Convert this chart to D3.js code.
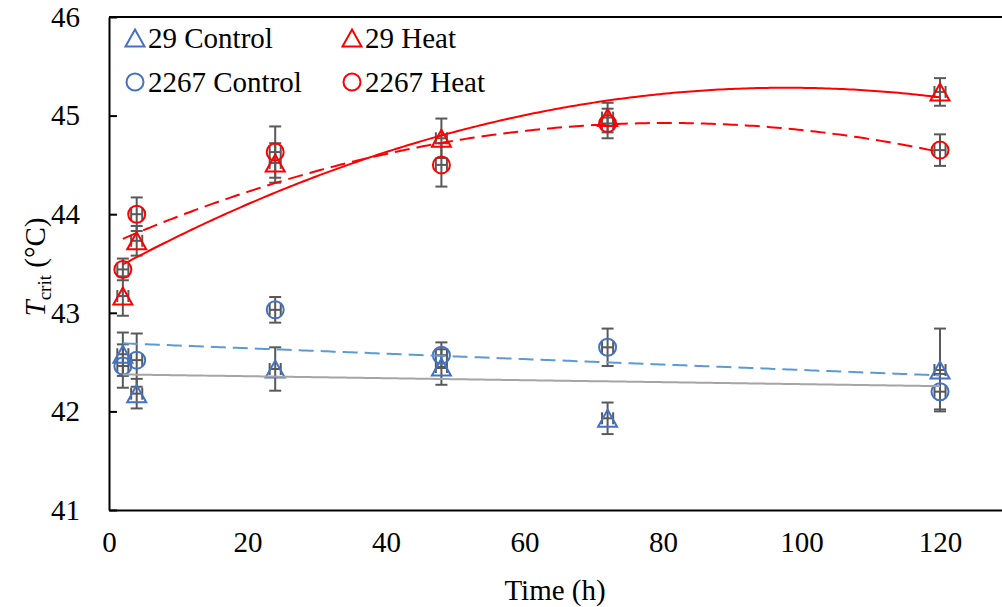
<!DOCTYPE html>
<html>
<head>
<meta charset="utf-8">
<script src="https://cdn.jsdelivr.net/npm/d3@7"></script>
<style>
  body { margin: 0; background: #fff; }
  svg { display: block; font-family: "Liberation Serif", "Times New Roman", serif; }
</style>
</head>
<body>
<svg width="1002" height="607"></svg>
<script>
//data
const times = [2, 4, 24, 48, 72, 120];

const control29 = [42.58, 42.18, 42.43, 42.45, 41.93, 42.42];
const control29Err = [0.22, 0.15, 0.22, 0.18, 0.16, 0.42];

const heat29 = [43.17, 43.73, 44.52, 44.77, 44.98, 45.24];
const heat29Err = [0.2, 0.15, 0.2, 0.2, 0.15, 0.14];

const control2267 = [42.46, 42.52, 43.03, 42.57, 42.65, 42.2];
const control2267Err = [0.22, 0.27, 0.13, 0.13, 0.19, 0.18];

const heat2267 = [43.44, 44.0, 44.63, 44.5, 44.92, 44.65];
const heat2267Err = [0.11, 0.17, 0.26, 0.22, 0.15, 0.16];

const xTicks = [0, 20, 40, 60, 80, 100, 120];
const yTicks = [41, 42, 43, 44, 45, 46];

//constants
const margin = {top: 17, left: 109, bottom: 510};
const pxPerHour = 831 / 120;
const fontSize = 29;
const errColor = "#595959";

const series = [
    {name: "29 Control", y: control29, err: control29Err, color: "#4472c4", shape: "tri",
     fit: 1, lineColor: "#a5a5a5", dash: null},
    {name: "29 Heat", y: heat29, err: heat29Err, color: "#ff0000", shape: "tri",
     fit: 2, lineColor: "#ff0000", dash: null},
    {name: "2267 Control", y: control2267, err: control2267Err, color: "#4472c4", shape: "circ",
     fit: 1, lineColor: "#5b9bd5", dash: "15,7"},
    {name: "2267 Heat", y: heat2267, err: heat2267Err, color: "#ff0000", shape: "circ",
     fit: 2, lineColor: "#ff0000", dash: "15,7"}
];

//least squares polynomial (order 1 or 2), like the spreadsheet trendline
function polyFit(xs, ys, order) {
    const n = order + 1;
    let A = [], b = [];
    for (let i = 0; i < n; i++) {
        A.push([]);
        for (let j = 0; j < n; j++) A[i].push(d3.sum(xs, x => Math.pow(x, i + j)));
        b.push(d3.sum(xs, (x, k) => ys[k] * Math.pow(x, i)));
    }
    // gaussian elimination
    for (let i = 0; i < n; i++) {
        for (let r = i + 1; r < n; r++) {
            const f = A[r][i] / A[i][i];
            for (let c = i; c < n; c++) A[r][c] -= f * A[i][c];
            b[r] -= f * b[i];
        }
    }
    let coef = new Array(n).fill(0);
    for (let i = n - 1; i >= 0; i--) {
        let s = b[i];
        for (let c = i + 1; c < n; c++) s -= A[i][c] * coef[c];
        coef[i] = s / A[i][i];
    }
    return x => d3.sum(coef, (c, i) => c * Math.pow(x, i));
}

//scales
const xScale = d3.scaleLinear()
    .domain([0, 140])
    .range([margin.left, margin.left + 140 * pxPerHour]);

const yScale = d3.scaleLinear()
    .domain([41, 46])
    .range([margin.bottom, margin.top]);

const svg = d3.select("svg");

//plot frame (top and bottom borders)
svg.append("line")
    .attr("x1", xScale(0)).attr("x2", xScale(140))
    .attr("y1", yScale(46)).attr("y2", yScale(46))
    .attr("stroke", "#000").attr("stroke-width", 2);

//axes
const xAxis = d3.axisBottom(xScale)
    .tickValues(xTicks)
    .tickSize(0)
    .tickPadding(21)
    .tickFormat(d3.format("d"));

svg.append("g")
    .attr("transform", "translate(0," + margin.bottom + ")")
    .call(xAxis)
    .call(g => g.select(".domain").attr("stroke", "#000").attr("stroke-width", 2))
    .selectAll("text")
    .style("font-size", fontSize + "px")
    .style("font-family", "Liberation Serif, serif")
    .attr("fill", "#000");

const yAxis = d3.axisLeft(yScale)
    .tickValues(yTicks)
    .tickSizeInner(-8)
    .tickSizeOuter(0)
    .tickPadding(29)
    .tickFormat(d3.format("d"));

svg.append("g")
    .attr("transform", "translate(" + margin.left + ",0)")
    .call(yAxis)
    .call(g => g.select(".domain").attr("stroke", "#000").attr("stroke-width", 2))
    .call(g => g.selectAll(".tick line").attr("stroke", "#000").attr("stroke-width", 2))
    .selectAll("text")
    .style("font-size", fontSize + "px")
    .style("font-family", "Liberation Serif, serif")
    .attr("fill", "#000");

//axis titles
svg.append("text")
    .attr("x", 555)
    .attr("y", 600)
    .style("text-anchor", "middle")
    .style("font-size", fontSize + "px")
    .text("Time (h)");

const yTitle = svg.append("text")
    .attr("transform", "translate(45,267) rotate(-90)")
    .style("text-anchor", "middle")
    .style("font-size", fontSize + "px");
yTitle.append("tspan").style("font-style", "italic").text("T");
yTitle.append("tspan").attr("dy", 6).style("font-size", "19px").text("crit");
yTitle.append("tspan").attr("dy", -6).text(" (°C)");

//marker shapes
const triPath = "M0,-8.5L9.5,8.5L-9.5,8.5Z";
function drawMarker(g, shape, color) {
    if (shape === "tri") {
        g.append("path").attr("d", triPath);
    } else {
        g.append("circle").attr("r", 8.5);
    }
    g.selectAll("path, circle")
        .attr("fill", "none")
        .attr("stroke", color)
        .attr("stroke-width", 2);
}

const plot = svg.append("g");

//error bars
series.forEach(s => {
    const pts = times.map((t, i) => ({x: t, y: s.y[i], e: s.err[i]}));
    const eb = plot.append("g")
        .attr("stroke", errColor)
        .attr("stroke-width", 2);
    pts.forEach(p => {
        const cx = xScale(p.x);
        const y0 = yScale(p.y - p.e), y1 = yScale(p.y + p.e);
        eb.append("line").attr("x1", cx).attr("x2", cx).attr("y1", y0).attr("y2", y1);
        eb.append("line").attr("x1", cx - 6).attr("x2", cx + 6).attr("y1", y0).attr("y2", y0);
        eb.append("line").attr("x1", cx - 6).attr("x2", cx + 6).attr("y1", y1).attr("y2", y1);
        // small horizontal bars
        const xa = xScale(p.x - 0.8), xb = xScale(p.x + 0.8), cy = yScale(p.y);
        eb.append("line").attr("x1", xa).attr("x2", xb).attr("y1", cy).attr("y2", cy);
        eb.append("line").attr("x1", xa).attr("x2", xa).attr("y1", cy - 6).attr("y2", cy + 6);
        eb.append("line").attr("x1", xb).attr("x2", xb).attr("y1", cy - 6).attr("y2", cy + 6);
    });
});

//markers
series.forEach(s => {
    times.forEach((t, i) => {
        const g = plot.append("g")
            .attr("transform", "translate(" + xScale(t) + "," + yScale(s.y[i]) + ")");
        drawMarker(g, s.shape, s.color);
    });
});

//trendlines
series.forEach(s => {
    const f = polyFit(times, s.y, s.fit);
    const xs = d3.range(2, 120.01, 0.5);
    plot.append("path")
        .datum(xs)
        .attr("fill", "none")
        .attr("stroke", s.lineColor)
        .attr("stroke-width", 2)
        .attr("stroke-dasharray", s.dash)
        .attr("d", d3.line()
            .x(d => xScale(d))
            .y(d => yScale(f(d))));
});

//legend
const legendPos = [
    {x: 135, y: 38}, {x: 352, y: 38},
    {x: 135, y: 82}, {x: 352, y: 82}
];
series.forEach((s, i) => {
    const g = svg.append("g")
        .attr("transform", "translate(" + legendPos[i].x + "," + legendPos[i].y + ")");
    drawMarker(g, s.shape, s.color);
    g.append("text")
        .attr("x", 13)
        .attr("y", 10)
        .style("font-size", fontSize + "px")
        .text(s.name);
});
</script>
</body>
</html>
